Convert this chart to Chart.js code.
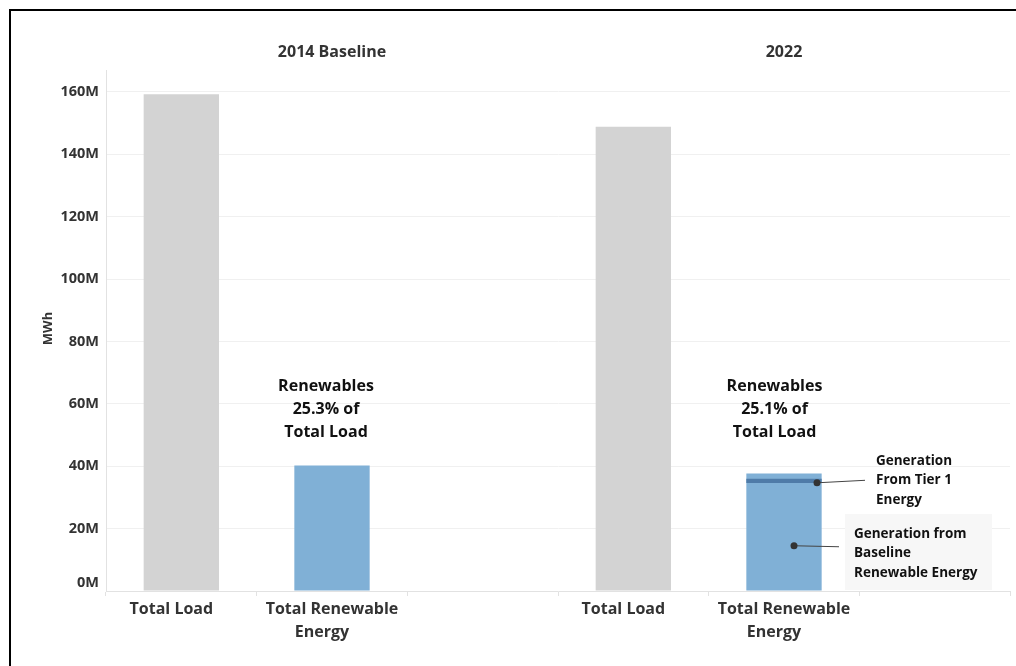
<!DOCTYPE html>
<html>
<head>
<meta charset="utf-8">
<script src="https://cdn.jsdelivr.net/npm/chart.js@4.4.1/dist/chart.umd.min.js"></script>
<style>
  html, body { margin: 0; padding: 0; background: #fff; overflow: hidden; }
  #wrap { position: relative; width: 1016px; height: 666px; }
  #frame { position: absolute; left: 9px; top: 9px; width: 2000px; height: 2000px; border: 2px solid #000; box-sizing: border-box; pointer-events: none; }
  canvas { position: absolute; left: 0; top: 0; }
</style>
</head>
<body>
<div id="wrap">
  <canvas id="c" width="1016" height="666"></canvas>
  <div id="frame"></div>
</div>
<script>
// ---- data (values in millions of MWh) ----
const categories = ["Total Load", ["Total Renewable", "Energy"], "", "Total Load", ["Total Renewable", "Energy"], ""];
const totalValues = [159.2, 40.2, null, 148.8, 37.7, null];
const tier1Boundary = [null, null, null, null, [34.6, 36.0], null];
const barColors = ["#d3d3d3", "#80b0d6", "#d3d3d3", "#d3d3d3", "#80b0d6", "#d3d3d3"];
const yTickValues = [0, 20, 40, 60, 80, 100, 120, 140, 160];
const yTickLabels = ["0M", "20M", "40M", "60M", "80M", "100M", "120M", "140M", "160M"];
const panelTitles = ["2014 Baseline", "2022"];
const shareNotes = [["Renewables", "25.3% of", "Total Load"], ["Renewables", "25.1% of", "Total Load"]];
const tier1Note = ["Generation", "From Tier 1", "Energy"];
const baselineNote = ["Generation from", "Baseline", "Renewable Energy"];
const yTitle = "MWh";

const FONT = "'Open Sans', 'DejaVu Sans', sans-serif";

const overlay = {
  id: 'overlay',
  afterDraw(chart) {
    const ctx = chart.ctx;
    const x = chart.scales.x, y = chart.scales.y;
    const area = chart.chartArea;
    ctx.save();
    // y axis title
    ctx.save();
    ctx.translate(area.left - 58, (area.top + area.bottom) / 2 - 2);
    ctx.rotate(-Math.PI / 2);
    ctx.font = "bold 13px " + FONT;
    ctx.fillStyle = "#333";
    ctx.textAlign = "center";
    ctx.textBaseline = "middle";
    ctx.fillText(yTitle, 0, 0);
    ctx.restore();

    // y tick labels (the bottom one is nudged up inside the plot, as in Tableau)
    ctx.font = "bold 14.5px " + FONT;
    ctx.fillStyle = "#333";
    ctx.textAlign = "right";
    ctx.textBaseline = "middle";
    yTickValues.forEach((v, i) => {
      let py = y.getPixelForValue(v);
      if (py > area.bottom - 8) py = area.bottom - 8.5;
      ctx.fillText(yTickLabels[i], area.left - 7, py);
    });

    // category labels (Tableau-style: short lines sit a little left of centre)
    ctx.font = "bold 16px " + FONT;
    ctx.textAlign = "center";
    const catW = (area.right - area.left) / categories.length;
    categories.forEach((lab, i) => {
      const lines = Array.isArray(lab) ? lab : [lab];
      const cx = x.getPixelForValue(i);
      lines.forEach((ln, j) => {
        if (!ln) return;
        const w = ctx.measureText(ln).width;
        const shift = w > catW - 30 ? 0 : -10;
        ctx.fillText(ln, cx + shift, area.bottom + 18 + j * 23);
      });
    });

    // panel titles (centered over each group of three categories)
    panelTitles.forEach((t, i) => {
      const cx = x.getPixelForValue(i * 3 + 1);
      ctx.fillText(t, cx, 52);
    });

    // share annotations
    ctx.fillStyle = "#111";
    shareNotes.forEach((lines, i) => {
      const cx = x.getPixelForValue(i * 3 + 1) - (i === 0 ? 6 : 9.5);
      const y0 = y.getPixelForValue(65.7);
      lines.forEach((ln, j) => ctx.fillText(ln, cx, y0 + j * 23));
    });

    // callouts for the 2022 renewable bar
    const bx = x.getPixelForValue(4);
    ctx.fillStyle = "#f7f7f7";
    ctx.fillRect(bx + 61, 514, 147, 76);
    ctx.strokeStyle = "#444";
    ctx.lineWidth = 1;
    const d1y = y.getPixelForValue(35.0);
    ctx.beginPath();
    ctx.moveTo(bx + 33, d1y + 1);
    ctx.lineTo(bx + 81, d1y - 1.5);
    ctx.stroke();
    const d2y = y.getPixelForValue(14.5);
    ctx.beginPath();
    ctx.moveTo(bx + 10, d2y);
    ctx.lineTo(bx + 55, d2y + 1);
    ctx.stroke();
    ctx.fillStyle = "#333";
    ctx.beginPath(); ctx.arc(bx + 33, d1y + 1, 3.5, 0, Math.PI * 2); ctx.fill();
    ctx.beginPath(); ctx.arc(bx + 10, d2y, 3.5, 0, Math.PI * 2); ctx.fill();

    ctx.font = "bold 13.5px " + FONT;
    ctx.fillStyle = "#111";
    ctx.textAlign = "left";
    tier1Note.forEach((ln, j) => ctx.fillText(ln, bx + 92, 461 + j * 19.5));
    baselineNote.forEach((ln, j) => ctx.fillText(ln, bx + 70, 534 + j * 19.5));
    ctx.restore();
  }
};

new Chart(document.getElementById('c'), {
  type: 'bar',
  data: {
    labels: categories,
    datasets: [
      {
        label: 'Total',
        data: totalValues,
        backgroundColor: barColors,
        grouped: false,
        barPercentage: 0.5,
        categoryPercentage: 1.0,
        order: 2
      },
      {
        label: 'Generation From Tier 1 Energy',
        data: tier1Boundary,
        backgroundColor: "#4f7ba8",
        grouped: false,
        barPercentage: 0.5,
        categoryPercentage: 1.0,
        order: 1
      }
    ]
  },
  options: {
    responsive: false,
    animation: false,
    devicePixelRatio: 1,
    layout: { padding: { left: 0, right: 6, top: 70, bottom: 0 } },
    plugins: { legend: { display: false }, tooltip: { enabled: false }, title: { display: false } },
    scales: {
      x: {
        type: 'category',
        offset: true,
        grid: { display: true, drawOnChartArea: false, drawTicks: true, tickLength: 5, color: "#e2e2e2", offset: true },
        border: { display: true, color: "#e2e2e2" },
        ticks: { display: false },
        afterFit(s) { s.height = 75; }
      },
      y: {
        min: 0, max: 167,
        grid: { color: "#f0f0f0", drawTicks: false },
        border: { display: true, color: "#e2e2e2" },
        ticks: { display: false },
        afterBuildTicks(s) { s.ticks = yTickValues.map(v => ({ value: v })); },
        afterFit(s) { s.width = 106; }
      }
    }
  },
  plugins: [overlay]
});
</script>
</body>
</html>
